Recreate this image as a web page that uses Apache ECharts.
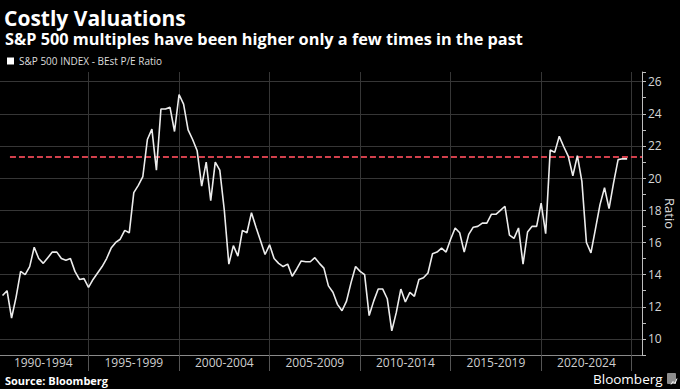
<!DOCTYPE html>
<html><head><meta charset="utf-8">
<script src="https://cdn.jsdelivr.net/npm/echarts@6/dist/echarts.min.js"></script>
<style>html,body{margin:0;padding:0;background:#000;}#c{width:680px;height:389px;}</style>
</head><body><div id="c"></div>
<script>
// ---- data (quarter-end readings, Q1 1990 .. Q3 2024) ----
const periods = ['1990-1994','1995-1999','2000-2004','2005-2009','2010-2014','2015-2019','2020-2024'];
const pe1990_1994 = [12.7,13.0,11.3,12.6, 14.2,14.0,14.5,15.7, 15.0,14.7,15.05,15.4, 15.4,15.0,14.9,15.0, 14.2,13.7,13.75,13.2];
const pe1995_1999 = [13.7,14.1,14.5,15.0, 15.65,16.0,16.2,16.75, 16.6,19.1,19.55,20.1, 22.4,23.05,20.5,24.3, 24.3,24.4,22.9,25.2];
const pe2000_2004 = [24.6,23.0,22.4,21.7, 19.5,21.0,18.6,21.0, 20.5,18.0,14.65,15.8, 15.15,16.75,16.6,17.85, 16.95,16.1,15.25,15.85];
const pe2005_2009 = [15.0,14.7,14.5,14.65, 13.9,14.35,14.85,14.8, 14.8,15.05,14.7,14.4, 13.3,12.9,12.15,11.75, 12.35,13.5,14.5,14.2];
const pe2010_2014 = [14.0,11.45,12.35,13.1, 13.1,12.5,10.5,11.65, 13.1,12.3,12.9,12.65, 13.7,13.8,14.1,15.3, 15.4,15.65,15.4,16.2];
const pe2015_2019 = [16.9,16.6,15.4,16.5, 16.95,17.0,17.2,17.2, 17.75,17.75,18.0,18.25, 16.45,16.25,16.9,14.65, 16.65,17.0,17.0,18.45];
const pe2020_2024 = [16.55,21.75,21.6,22.6, 21.95,21.35,20.15,21.4, 19.8,16.0,15.35,16.85, 18.35,19.4,18.1,19.7, 21.15,21.2,21.2];
const currentLevel = 21.3;
const refLineStartYear = 1990.66;
const yLabelValues = [10,12,14,16,18,20,22,24,26];
const firstYear = 1990;
const seriesName = 'S&P 500 INDEX - BEst P/E Ratio';

const peRatio = [].concat(pe1990_1994, pe1995_1999, pe2000_2004, pe2005_2009, pe2010_2014, pe2015_2019, pe2020_2024);
const seriesData = peRatio.map((v, i) => [firstYear + (i + 1) * 0.25, v]);

const FONT = '"Open Sans", "Liberation Sans", sans-serif';
const chart = echarts.init(document.getElementById('c'), null, {renderer: 'svg'});
const option = {
  backgroundColor: '#000',
  animation: false,
  textStyle: {fontFamily: FONT},
  title: [
    {text: 'Costly Valuations', left: 4, top: 7, padding: 0, textStyle: {color: '#fff', fontSize: 21, lineHeight: 22, fontWeight: 'bold', fontFamily: FONT}},
    {text: 'S&P 500 multiples have been higher only a few times in the past', left: 5, top: 31, padding: 0, textStyle: {color: '#fff', fontSize: 16.3, lineHeight: 16, fontWeight: 'bold', fontFamily: FONT}},
    {text: 'Source: Bloomberg', left: 5, top: 374, padding: 0, textStyle: {color: '#fff', fontSize: 11, lineHeight: 12, fontWeight: 'bold', fontFamily: FONT}},
    {text: 'Bloomberg', left: 593, top: 371, padding: 0, textStyle: {color: '#fff', fontSize: 13.5, lineHeight: 15, fontWeight: 'normal', fontFamily: FONT}}
  ],
  legend: {
    data: [seriesName], left: 2, top: 51, icon: 'rect', itemWidth: 7, itemHeight: 7, itemGap: 3,
    selectedMode: false, textStyle: {color: '#ddd', fontSize: 10, fontFamily: FONT}
  },
  grid: [
    {left: -2, right: 38, top: 72, bottom: 34, outerBoundsMode: 'none', containLabel: false},
    {left: -2, right: 48.3, top: 72, bottom: 34, outerBoundsMode: 'none', containLabel: false}
  ],
  xAxis: [
    {type: 'value', gridIndex: 0, min: 1990, max: 2025.57,
     axisLine: {show: true, lineStyle: {color: '#8a8a8a', width: 1}}, axisTick: {show: false},
     axisLabel: {show: false}, splitLine: {show: false}},
    {type: 'category', gridIndex: 1, data: periods, boundaryGap: true,
     axisLine: {show: false},
     axisTick: {show: true, length: 16, lineStyle: {color: '#555'}},
     axisLabel: {color: '#cfcfcf', fontSize: 12, margin: 1, fontFamily: FONT},
     splitLine: {show: true, lineStyle: {color: '#363636', width: 1}}}
  ],
  yAxis: [
    {type: 'value', gridIndex: 0, position: 'right', min: 9, max: 26.6, interval: 1,
     name: 'Ratio', nameLocation: 'middle', nameGap: 21, nameRotate: -90, nameMoveOverlap: false,
     nameTextStyle: {color: '#ddd', fontSize: 13, fontFamily: FONT},
     axisLine: {show: true, lineStyle: {color: '#bdbdbd', width: 1}},
     axisTick: {show: true, length: 4, lineStyle: {color: '#bdbdbd'}},
     axisLabel: {color: '#d6d6d6', fontSize: 12, margin: 6, fontFamily: FONT,
       formatter: v => (yLabelValues.indexOf(v) >= 0 ? String(v) : '')},
     splitLine: {show: false}},
    {type: 'value', gridIndex: 1, show: false, min: 9, max: 26.6}
  ],
  series: [
    {
      type: 'line', name: 'grid', xAxisIndex: 0, yAxisIndex: 0, data: seriesData,
      symbol: 'none', silent: true, lineStyle: {opacity: 0}, z: 1,
      markLine: {
        silent: true, symbol: 'none', label: {show: false}, animation: false,
        data: yLabelValues.map(v => ({yAxis: v, lineStyle: {color: '#363636', width: 1, type: 'solid'}}))
          .concat([[
            {coord: [refLineStartYear, currentLevel], lineStyle: {color: '#d2404c', width: 2, type: [6, 3]}},
            {coord: [2025.57, currentLevel]}
          ]])
      }
    },
    {
      type: 'line', name: seriesName, xAxisIndex: 0, yAxisIndex: 0, data: seriesData,
      symbol: 'none', lineStyle: {color: '#ececec', width: 1.6}, itemStyle: {color: '#ffffff'}, z: 5
    }
  ],
  graphic: [
    {type: 'rect', left: 667, top: 373, shape: {width: 9, height: 11, r: 1}, style: {fill: '#8c8c8c'}},
    {type: 'polyline', left: 668.5, top: 376, shape: {points: [[0, 6], [2, 3], [4, 5], [6, 0]]}, style: {stroke: '#fff', fill: null, lineWidth: 1}}
  ]
};
chart.setOption(option);
</script>
</body></html>
